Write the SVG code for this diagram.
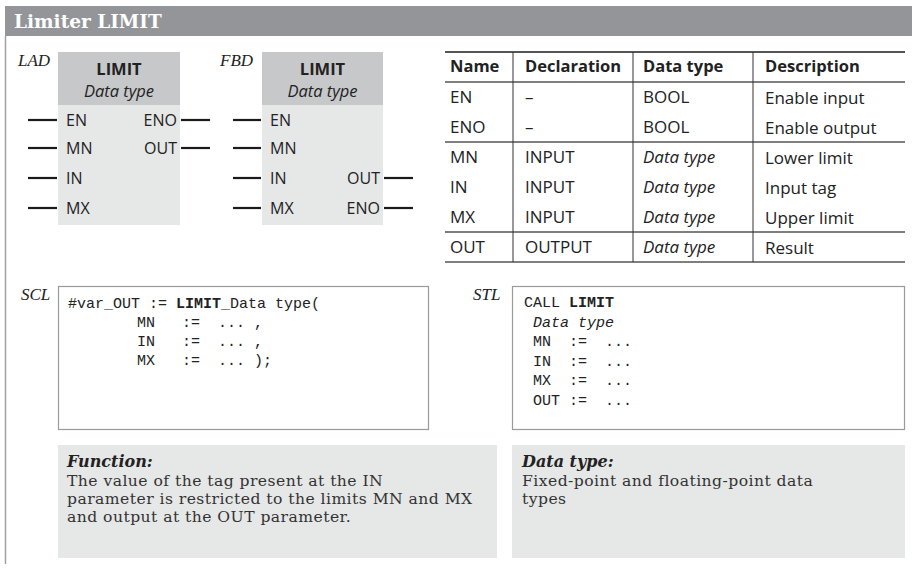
<svg xmlns="http://www.w3.org/2000/svg" width="912" height="570" viewBox="0 0 912 570">
<style>
.lbl{font-family:"Liberation Serif",serif;font-style:italic;font-size:17px;fill:#222}
.pin{font-family:"Open Sans","Noto Sans",sans-serif;font-size:16px;fill:#222}
.hdr{font-family:"Open Sans","Noto Sans",sans-serif;font-size:16.5px;fill:#222;text-anchor:middle}
.tb{font-family:"Open Sans","Noto Sans",sans-serif;font-size:17px;fill:#222}
.tbh{font-family:"Open Sans","Noto Sans",sans-serif;font-size:16.5px;font-weight:bold;fill:#222}
.code{font-family:"Liberation Mono","Courier New",monospace;font-size:15px;fill:#222;white-space:pre}
.body{font-family:"DejaVu Serif",serif;font-size:15.6px;letter-spacing:0.45px;fill:#333}
.bhead{font-family:"DejaVu Serif",serif;font-size:16px;font-weight:bold;font-style:italic;fill:#222}
.wire{stroke:#1a1a1a;stroke-width:2.2}
.rule{stroke:#555;stroke-width:1.5}
.vr{stroke:#333;stroke-width:1}
.cbox{fill:#fff;stroke:#9a9a9a;stroke-width:1.2}
.gbox{fill:#e6e7e7}
.bhdr{fill:#c7c8c9}
</style>

<g id="title">
  <rect x="5" y="6" width="907" height="30" fill="#939598"/>
  <text x="14" y="28" style="font-family:'DejaVu Serif',serif;font-size:18.5px;font-weight:bold;fill:#fff">Limiter LIMIT</text>
  <line x1="5.5" y1="36" x2="5.5" y2="564" stroke="#a0a0a0" stroke-width="1.5"/>
</g>

<g id="lad">
  <text class="lbl" x="18" y="66">LAD</text>
  <rect class="gbox" x="58" y="52" width="122" height="173"/>
  <rect class="bhdr" x="58" y="52" width="122" height="53"/>
  <text class="hdr" x="119" y="75" font-weight="bold">LIMIT</text>
  <text class="hdr" x="119" y="97" font-style="italic">Data type</text>
  <text class="pin" x="66" y="126">EN</text>
  <text class="pin" x="66" y="154">MN</text>
  <text class="pin" x="66" y="184">IN</text>
  <text class="pin" x="66" y="214">MX</text>
  <text class="pin" x="177" y="126" text-anchor="end">ENO</text>
  <text class="pin" x="177" y="154" text-anchor="end">OUT</text>
</g>

<g id="fbd">
  <text class="lbl" x="220" y="66">FBD</text>
  <rect class="gbox" x="262" y="52" width="121" height="173"/>
  <rect class="bhdr" x="262" y="52" width="121" height="53"/>
  <text class="hdr" x="322.5" y="75" font-weight="bold">LIMIT</text>
  <text class="hdr" x="322.5" y="97" font-style="italic">Data type</text>
  <text class="pin" x="270" y="126">EN</text>
  <text class="pin" x="270" y="154">MN</text>
  <text class="pin" x="270" y="184">IN</text>
  <text class="pin" x="270" y="214">MX</text>
  <text class="pin" x="380" y="184" text-anchor="end">OUT</text>
  <text class="pin" x="380" y="214" text-anchor="end">ENO</text>
</g>

<g id="connectors">
  <line class="wire" x1="28" y1="120" x2="57" y2="120"/>
  <line class="wire" x1="28" y1="148" x2="57" y2="148"/>
  <line class="wire" x1="28" y1="178" x2="57" y2="178"/>
  <line class="wire" x1="28" y1="208" x2="57" y2="208"/>
  <line class="wire" x1="181" y1="120" x2="210" y2="120"/>
  <line class="wire" x1="181" y1="148" x2="210" y2="148"/>
  <line class="wire" x1="233" y1="120" x2="261" y2="120"/>
  <line class="wire" x1="233" y1="148" x2="261" y2="148"/>
  <line class="wire" x1="233" y1="178" x2="261" y2="178"/>
  <line class="wire" x1="233" y1="208" x2="261" y2="208"/>
  <line class="wire" x1="384" y1="178" x2="413" y2="178"/>
  <line class="wire" x1="384" y1="208" x2="413" y2="208"/>
</g>

<g id="table">
  <line x1="445" y1="52" x2="905" y2="52" stroke="#555" stroke-width="2.2"/>
  <line class="rule" x1="445" y1="82" x2="905" y2="82"/>
  <line class="rule" x1="445" y1="142" x2="905" y2="142"/>
  <line class="rule" x1="445" y1="232" x2="905" y2="232"/>
  <line class="rule" x1="445" y1="262" x2="905" y2="262"/>
  <line class="vr" x1="513" y1="52" x2="513" y2="262"/>
  <line class="vr" x1="633" y1="52" x2="633" y2="262"/>
  <line class="vr" x1="753" y1="52" x2="753" y2="262"/>
  <text class="tbh" x="450" y="72">Name</text>
  <text class="tbh" x="525" y="72">Declaration</text>
  <text class="tbh" x="643" y="72">Data type</text>
  <text class="tbh" x="765" y="72">Description</text>
  <text class="tb" x="450" y="103">EN</text>
  <text class="tb" x="525" y="103">–</text>
  <text class="tb" x="643" y="103">BOOL</text>
  <text class="tb" x="765" y="104">Enable input</text>
  <text class="tb" x="450" y="133">ENO</text>
  <text class="tb" x="525" y="133">–</text>
  <text class="tb" x="643" y="133">BOOL</text>
  <text class="tb" x="765" y="134">Enable output</text>
  <text class="tb" x="450" y="163">MN</text>
  <text class="tb" x="525" y="163">INPUT</text>
  <text class="tb" x="643" y="163" font-style="italic">Data type</text>
  <text class="tb" x="765" y="164">Lower limit</text>
  <text class="tb" x="450" y="193">IN</text>
  <text class="tb" x="525" y="193">INPUT</text>
  <text class="tb" x="643" y="193" font-style="italic">Data type</text>
  <text class="tb" x="765" y="194">Input tag</text>
  <text class="tb" x="450" y="223">MX</text>
  <text class="tb" x="525" y="223">INPUT</text>
  <text class="tb" x="643" y="223" font-style="italic">Data type</text>
  <text class="tb" x="765" y="224">Upper limit</text>
  <text class="tb" x="450" y="253">OUT</text>
  <text class="tb" x="525" y="253">OUTPUT</text>
  <text class="tb" x="643" y="253" font-style="italic">Data type</text>
  <text class="tb" x="765" y="254">Result</text>
</g>

<g id="scl">
  <text class="lbl" x="21" y="300">SCL</text>
  <rect class="cbox" x="58.5" y="286.5" width="370" height="143"/>
  <text class="code" x="68" y="308">#var_OUT := <tspan font-weight="bold">LIMIT</tspan>_Data type(</text>
  <text class="code" x="137" y="327">MN   :=  ... ,</text>
  <text class="code" x="137" y="346">IN   :=  ... ,</text>
  <text class="code" x="137" y="365">MX   :=  ... );</text>
</g>

<g id="stl">
  <text class="lbl" x="473" y="300">STL</text>
  <rect class="cbox" x="512.5" y="286.5" width="392" height="143"/>
  <text class="code" x="524" y="307">CALL <tspan font-weight="bold">LIMIT</tspan></text>
  <text class="code" x="533" y="327" font-style="italic">Data type</text>
  <text class="code" x="533" y="346">MN  :=  ...</text>
  <text class="code" x="533" y="366">IN  :=  ...</text>
  <text class="code" x="533" y="385">MX  :=  ...</text>
  <text class="code" x="533" y="405">OUT :=  ...</text>
</g>

<g id="function">
  <rect class="gbox" x="58" y="445" width="439" height="113"/>
  <text class="bhead" x="67" y="467">Function:</text>
  <text class="body" x="67" y="486">The value of the tag present at the IN</text>
  <text class="body" x="67" y="504">parameter is restricted to the limits MN and MX</text>
  <text class="body" x="67" y="522">and output at the OUT parameter.</text>
</g>

<g id="datatype">
  <rect class="gbox" x="512" y="445" width="393" height="113"/>
  <text class="bhead" x="522" y="467">Data type:</text>
  <text class="body" x="522" y="486">Fixed-point and floating-point data</text>
  <text class="body" x="522" y="504">types</text>
</g>
</svg>
